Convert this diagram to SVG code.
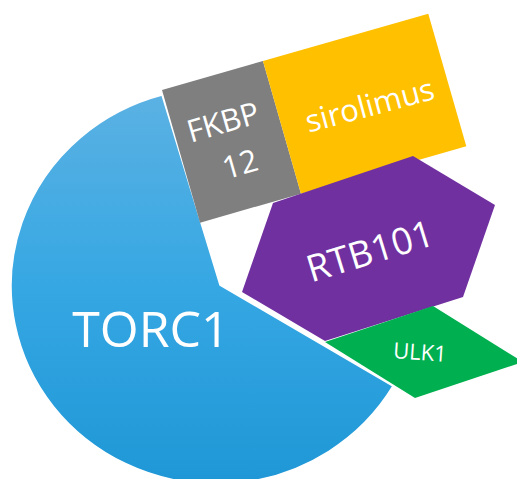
<svg xmlns="http://www.w3.org/2000/svg" width="517" height="479" viewBox="0 0 517 479">
  <defs>
    <linearGradient id="blueGrad" x1="0" y1="0" x2="0" y2="1">
      <stop offset="0" stop-color="#5BB1E3"/>
      <stop offset="0.5" stop-color="#35A7E3"/>
      <stop offset="1" stop-color="#1F97D6"/>
    </linearGradient>
  </defs>
  <style>
    text { font-family: "Open Sans", "Liberation Sans", sans-serif; fill: #FFFFFF; text-anchor: middle; }
  </style>
  <rect width="517" height="479" fill="#FFFFFF"/>
  <g id="TORC1">
    <path d="M 220 285 L 393 386 A 205 198 0 1 1 162 95 Z" fill="url(#blueGrad)" stroke="#FFFFFF" stroke-width="1.5" stroke-linejoin="miter"/>
    <text x="151" y="347" font-size="50">TORC1</text>
  </g>
  <g id="FKBP12">
    <g transform="translate(162,90) rotate(-16)">
      <rect x="0" y="0" width="105" height="138" fill="#7F7F7F"/>
    </g>
    <text transform="translate(223,122) rotate(-16)" y="11" font-size="31">FKBP</text>
    <text transform="translate(240,164) rotate(-16)" y="11" font-size="31">12</text>
  </g>
  <g id="sirolimus">
    <g transform="translate(162,90) rotate(-16)">
      <rect x="105" y="0" width="172" height="138" fill="#FFC000"/>
    </g>
    <text transform="translate(370,106) rotate(-15)" y="10" font-size="31">sirolimus</text>
  </g>
  <g id="RTB101">
    <polygon points="273,203 413,156 495,205 463,297 325,341 242,292" fill="#7030A0"/>
    <text transform="translate(370,251) rotate(-17)" y="13" font-size="37">RTB101</text>
  </g>
  <g id="ULK1">
    <polygon points="325,342 433,306 523,362 415,398" fill="#00B050"/>
    <text transform="translate(420,352) rotate(4)" y="8" font-size="22">ULK1</text>
  </g>
  <g id="connectors"/>
</svg>
